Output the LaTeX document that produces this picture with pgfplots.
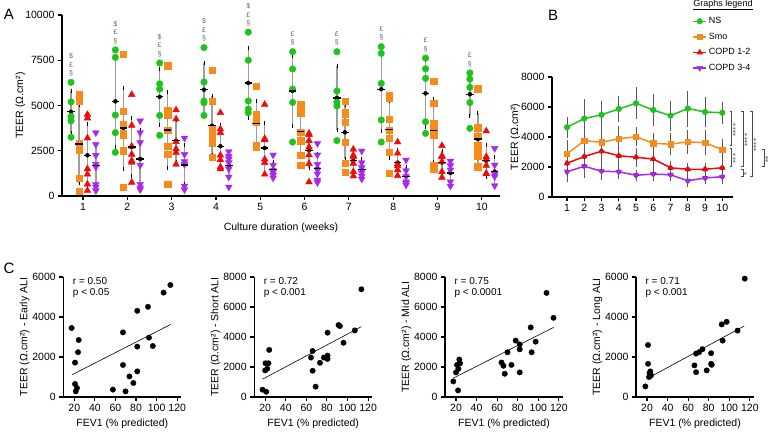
\documentclass[border=0pt]{standalone}
\usepackage{fontspec}
\setmainfont{Liberation Sans}
\usepackage{pgfplots}
\pgfplotsset{compat=1.18}
\usepackage{pgfplotstable}

\definecolor{cNS}{RGB}{30,195,30}
\definecolor{cSmo}{RGB}{247,140,30}
\definecolor{cCa}{RGB}{240,10,10}
\definecolor{cCb}{RGB}{170,40,235}

\tikzset{sig/.style={font=\fontsize{7}{7}\selectfont, text=black!60, inner sep=0pt}}
\pgfplotsset{
  gp/.style={
    scale only axis, clip=false, enlargelimits=false,
    axis x line*=bottom, axis y line*=left,
    axis line style={line width=1.1pt},
    tick align=outside, major tick length=4pt,
    tick style={black, line width=1.1pt},
    tick label style={font=\fontsize{10.5}{12}\selectfont},
    label style={font=\fontsize{10.5}{12}\selectfont},
    /pgf/number format/assume math mode=true,
    /pgf/number format/1000 sep={},
    scaled ticks=false,
  },
  cax/.style={gp, width=118pt, height=120pt, xmin=9.3, xmax=124, ymin=0,
    xtick={20,40,...,120}, xlabel={FEV1 (\% predicted)}, ylabel style={yshift=-4pt}},
  ptsty/.style={only marks, mark size=2.7pt, mark=*, mark options={fill=black, draw=black}},
}

% ---------- Panel A individual values ----------
\pgfplotstableread{
w v
1 6280
1 5200
1 4400
1 4150
1 3250
2 8070
2 7660
2 4470
2 3500
2 2410
3 7350
3 6200
3 5900
3 4450
3 3350
4 8200
4 6300
4 5250
4 5150
4 4450
5 9050
5 7500
5 5250
5 4800
5 4600
6 7970
6 7020
6 5910
6 5170
6 2980
7 7970
7 5800
7 5190
7 4970
7 3060
8 8250
8 7880
8 6220
8 4200
8 2980
9 7620
9 7030
9 6500
9 4100
9 3460
10 6800
10 6460
10 6000
10 5160
10 3740
}\NSpts

\pgfplotstableread{
w v
1 5620
1 5230
1 2900
1 2540
1 1000
1 270
2 7850
2 4700
2 3950
2 3450
2 3350
2 2500
2 500
3 7200
3 4750
3 4450
3 3650
3 2750
3 2300
3 650
4 6950
4 5250
4 3700
4 3300
4 3100
4 2950
4 2150
5 6080
5 4510
5 4240
5 4090
5 2780
5 2730
6 5060
6 4900
6 4600
6 3540
6 3060
6 2250
6 1710
7 5250
7 4600
7 4530
7 4090
7 2970
7 1800
7 1330
8 5580
8 5430
8 4250
8 3650
8 3190
8 2410
8 1250
9 6350
9 5120
9 4010
9 3650
9 3370
9 1680
9 1470
10 5930
10 3780
10 3310
10 2820
10 2390
10 2230
10 1620
}\Smopts

\pgfplotstableread{
w v
1 4500
1 4300
1 3200
1 1500
1 1200
1 650
1 300
2 5600
2 3900
2 2750
2 2300
2 1950
2 1850
2 750
3 4750
3 4250
3 3000
3 2600
3 2400
3 1750
4 4600
4 3700
4 3500
4 2250
4 2000
4 1600
4 1500
5 5060
5 3170
5 3100
5 2030
5 1840
5 1200
6 3460
6 3390
6 3060
6 2700
6 2270
6 1790
6 770
7 2580
7 2250
7 2170
7 1800
7 1340
7 1100
8 2980
8 2360
8 1770
8 1660
8 1440
8 1120
9 2780
9 2230
9 2170
9 1900
9 1340
9 1030
10 3590
10 2170
10 2030
10 1680
10 1250
10 1220
}\Capts

\pgfplotstableread{
w v
1 3500
1 2850
1 2250
1 1750
1 1600
1 650
1 500
1 300
2 4150
2 3500
2 2950
2 1700
2 650
2 450
2 350
3 3200
3 2300
3 1900
3 1750
3 550
3 350
4 2450
4 2200
4 2050
4 1850
4 1500
4 1050
4 500
5 2270
5 1700
5 1400
5 1300
5 1150
5 1000
6 2900
6 2270
6 1750
6 1440
6 1220
6 880
6 740
7 2490
7 1840
7 1570
7 1290
7 1100
7 940
8 1990
8 1400
8 1070
8 790
8 700
8 610
9 1930
9 1680
9 1440
9 790
9 550
10 2630
10 1710
10 1220
10 1070
10 570
}\Cbpts

% ---------- means, SD (panel A) and SEM (panel B) ----------
\pgfplotstableread{
w m sd se
1 4650 1145 500
2 5230 2520 1100
3 5480 1564 700
4 5870 1460 650
5 6250 1951 870
6 5800 1908 850
7 5420 1766 800
8 5900 2289 1000
9 5670 1849 800
10 5620 1224 530
}\NSms
\pgfplotstableread{
w m sd se
1 2880 2166 740
2 3750 2241 850
3 3650 2085 820
4 3880 1640 640
5 4020 1243 430
6 3580 1323 490
7 3520 1503 550
8 3680 1567 590
9 3620 1746 650
10 3150 1415 530
}\Smoms
\pgfplotstableread{
w m sd se
1 2250 1741 600
2 2700 1586 700
3 3050 1152 550
4 2750 1196 500
5 2650 1369 450
6 2530 967 450
7 1950 569 250
8 1850 672 250
9 1850 636 250
10 1950 875 320
}\Cams
\pgfplotstableread{
w m sd se
1 1680 1158 500
2 2050 1571 550
3 1720 1078 380
4 1680 688 250
5 1450 456 180
6 1530 774 280
7 1480 567 200
8 1080 522 230
9 1270 589 200
10 1350 780 280
}\Cbms

% ---------- Panel C ----------
\pgfplotstableread{
x y
17.4 3450
20.7 1720
23.6 2240
24.3 2850
20.7 650
22.6 450
21.4 280
57.5 370
67.3 3230
67.3 1600
69.8 280
73.6 1030
77.4 700
81.2 4310
81.2 2520
81.2 1280
91.6 4510
92.6 2970
96.3 2550
106.8 5220
113.4 5600
}\Cone
\pgfplotstableread{
x y
17.4 490
21 350
20 1770
22 1880
20.3 2250
23.2 2250
23.9 3140
64.5 2630
66.1 3070
66.1 1750
69 690
73.2 2280
77.1 2630
79 2630
80.6 2760
80.6 2540
80.6 4290
91.3 4800
92.6 4730
96.1 3620
107.1 4440
113.5 7180
}\Ctwo
\pgfplotstableread{
x y
17.4 1040
22 440
20 1640
21 2140
22.3 1880
23.2 2500
23.9 2250
64.2 2300
66.1 2080
67.4 1550
70 2980
73.9 2140
78 3760
81.9 3510
81.9 3180
81.9 1640
92.6 4640
93.5 2980
97.4 3690
108 6940
114.8 5280
}\Cthree
\pgfplotstableread{
x y
18.4 530
21 2600
21 1660
22.5 1200
23.2 1280
23.9 1080
22 1000
66.1 1580
67.7 1240
67.7 2170
70.6 2240
73.9 2390
78 1330
82.3 2190
82.3 1660
82.9 1610
92.6 3630
93.5 2820
97.4 3760
108 3320
115 5920
}\Cfour

\begin{document}
\begin{tikzpicture}[x=1pt,y=1pt]
\useasboundingbox (0,0) rectangle (771,432);

% ================= Panel A =================
\begin{axis}[gp, at={(62pt,236pt)}, anchor=south west, width=438pt, height=181pt,
  xmin=0.526, xmax=10.41, ymin=0, ymax=10000,
  xtick={1,...,10}, ytick={0,2500,5000,7500,10000},
  xlabel={Culture duration (weeks)}, ylabel={TEER (Ω.cm²)},
  xlabel style={yshift=-5pt}, ylabel style={yshift=-7pt}]
% SD bars
\addplot[only marks, mark=none, forget plot, error bars/.cd, y dir=both, y explicit,
  error bar style={black!38, line width=1.4pt}, error mark options={black, line width=0.8pt, mark size=2pt}]
  table[x expr=\thisrow{w}-0.27, y=m, y error=sd]{\NSms};
\addplot[only marks, mark=none, forget plot, error bars/.cd, y dir=both, y explicit,
  error bar style={black!38, line width=1.4pt}, error mark options={black, line width=0.8pt, mark size=2pt}]
  table[x expr=\thisrow{w}-0.09, y=m, y error=sd]{\Smoms};
\addplot[only marks, mark=none, forget plot, error bars/.cd, y dir=both, y explicit,
  error bar style={black!38, line width=1.4pt}, error mark options={black, line width=0.8pt, mark size=2pt}]
  table[x expr=\thisrow{w}+0.10, y=m, y error=sd]{\Cams};
\addplot[only marks, mark=none, forget plot, error bars/.cd, y dir=both, y explicit,
  error bar style={black!38, line width=1.4pt}, error mark options={black, line width=0.8pt, mark size=2pt}]
  table[x expr=\thisrow{w}+0.29, y=m, y error=sd]{\Cbms};
% points
\addplot[only marks, mark=*, mark size=3.3pt, mark options={draw=cNS, fill=cNS}]
  table[x expr=\thisrow{w}-0.27, y=v]{\NSpts};
\addplot[only marks, mark=square*, mark size=3.2pt, mark options={draw=cSmo, fill=cSmo}]
  table[x expr=\thisrow{w}-0.09, y=v]{\Smopts};
\addplot[only marks, mark=triangle*, mark size=3.9pt, mark options={draw=cCa, fill=cCa}]
  table[x expr=\thisrow{w}+0.10, y=v]{\Capts};
\addplot[only marks, mark=triangle*, mark size=3.9pt, mark options={draw=cCb, fill=cCb, rotate=180}]
  table[x expr=\thisrow{w}+0.29, y=v]{\Cbpts};
% means
\addplot[only marks, mark=-, mark size=3.8pt, mark options={black, line width=1.3pt}]
  table[x expr=\thisrow{w}-0.27, y=m]{\NSms};
\addplot[only marks, mark=-, mark size=3.8pt, mark options={black, line width=1.3pt}]
  table[x expr=\thisrow{w}-0.09, y=m]{\Smoms};
\addplot[only marks, mark=-, mark size=3.8pt, mark options={black, line width=1.3pt}]
  table[x expr=\thisrow{w}+0.10, y=m]{\Cams};
\addplot[only marks, mark=-, mark size=3.8pt, mark options={black, line width=1.3pt}]
  table[x expr=\thisrow{w}+0.29, y=m]{\Cbms};
% significance symbols
\node[sig] at (axis cs:0.73,6780) {§};
\node[sig] at (axis cs:0.73,7250) {£};
\node[sig] at (axis cs:0.73,7720) {\$};
\node[sig] at (axis cs:1.73,8570) {§};
\node[sig] at (axis cs:1.73,9040) {£};
\node[sig] at (axis cs:1.73,9510) {\$};
\node[sig] at (axis cs:2.73,7850) {§};
\node[sig] at (axis cs:2.73,8320) {£};
\node[sig] at (axis cs:2.73,8790) {\$};
\node[sig] at (axis cs:3.73,8700) {§};
\node[sig] at (axis cs:3.73,9170) {£};
\node[sig] at (axis cs:3.73,9640) {\$};
\node[sig] at (axis cs:4.73,9550) {§};
\node[sig] at (axis cs:4.73,10020) {£};
\node[sig] at (axis cs:4.73,10490) {\$};
\node[sig] at (axis cs:5.73,8470) {§};
\node[sig] at (axis cs:5.73,8940) {£};
\node[sig] at (axis cs:6.73,8470) {§};
\node[sig] at (axis cs:6.73,8940) {£};
\node[sig] at (axis cs:7.73,8750) {§};
\node[sig] at (axis cs:7.73,9220) {£};
\node[sig] at (axis cs:8.73,8120) {§};
\node[sig] at (axis cs:8.73,8590) {£};
\node[sig] at (axis cs:9.73,7300) {§};
\node[sig] at (axis cs:9.73,7770) {£};
\end{axis}

% ================= Panel B =================
\begin{axis}[gp, at={(552pt,235pt)}, anchor=south west, width=181pt, height=120pt,
  xmin=0.13, xmax=10.62, ymin=0, ymax=8000,
  xtick={1,...,10}, ytick={0,2000,4000,6000,8000},
  ylabel={TEER (Ω.cm²)}, ylabel style={yshift=-6pt},
  legend style={at={(0.775,1.515)}, anchor=north west, draw=none, fill=none,
    font=\fontsize{9}{11}\selectfont, row sep=3.8pt, inner sep=0pt},
  legend cell align=left,
  legend image code/.code={\draw[mark repeat=2, mark phase=2, #1] plot coordinates {(0pt,0pt) (6.5pt,0pt) (13pt,0pt)};}]
\addplot[only marks, mark=none, forget plot, error bars/.cd, y dir=both, y explicit,
  error bar style={black!65, line width=0.9pt}, error mark options={black!65, line width=0.9pt, mark size=3pt}]
  table[x=w, y=m, y error=se]{\NSms};
\addplot[only marks, mark=none, forget plot, error bars/.cd, y dir=both, y explicit,
  error bar style={black!65, line width=0.9pt}, error mark options={black!65, line width=0.9pt, mark size=3pt}]
  table[x=w, y=m, y error=se]{\Smoms};
\addplot[only marks, mark=none, forget plot, error bars/.cd, y dir=both, y explicit,
  error bar style={black!65, line width=0.9pt}, error mark options={black!65, line width=0.9pt, mark size=3pt}]
  table[x=w, y=m, y error=se]{\Cams};
\addplot[only marks, mark=none, forget plot, error bars/.cd, y dir=both, y explicit,
  error bar style={black!65, line width=0.9pt}, error mark options={black!65, line width=0.9pt, mark size=3pt}]
  table[x=w, y=m, y error=se]{\Cbms};
\addplot[cNS, line width=1.5pt, mark=*, mark size=2.8pt, mark options={fill=cNS, draw=cNS, line width=0.5pt}]
  table[x=w, y=m]{\NSms};
\addlegendentry{NS}
\addplot[cSmo, line width=1.5pt, mark=square*, mark size=2.7pt, mark options={fill=cSmo, draw=cSmo, line width=0.5pt}]
  table[x=w, y=m]{\Smoms};
\addlegendentry{Smo}
\addplot[cCa, line width=1.5pt, mark=triangle*, mark size=3.2pt, mark options={fill=cCa, draw=cCa, line width=0.5pt}]
  table[x=w, y=m]{\Cams};
\addlegendentry{COPD 1-2}
\addplot[cCb, line width=1.5pt, mark=triangle*, mark size=3.2pt, mark options={fill=cCb, draw=cCb, rotate=180, line width=0.5pt}]
  table[x=w, y=m]{\Cbms};
\addlegendentry{COPD 3-4}
\end{axis}

% ================= Panel C =================
\begin{axis}[cax, at={(63.3pt,35pt)}, anchor=south west, ymax=6000, ytick={0,2000,4000,6000},
  ylabel={TEER (Ω.cm²) - Early ALI}]
\addplot[ptsty] table[x=x,y=y]{\Cone};
\addplot[black, line width=0.6pt, mark=none] coordinates {(17.7,1110) (113.7,3630)};
\node[anchor=north west, align=left, font=\fontsize{10}{11.5}\selectfont, inner sep=0pt] at (rel axis cs:0.08,1.0) {r = 0.50\\p < 0.05};
\end{axis}

\begin{axis}[cax, at={(254.2pt,35pt)}, anchor=south west, ymax=8000, ytick={0,2000,4000,6000,8000},
  ylabel={TEER (Ω.cm²) - Short ALI}]
\addplot[ptsty] table[x=x,y=y]{\Ctwo};
\addplot[black, line width=0.6pt, mark=none] coordinates {(17.4,1190) (113.5,4690)};
\node[anchor=north west, align=left, font=\fontsize{10}{11.5}\selectfont, inner sep=0pt] at (rel axis cs:0.08,1.0) {r = 0.72\\p < 0.001};
\end{axis}

\begin{axis}[cax, at={(445pt,35pt)}, anchor=south west, ymax=8000, ytick={0,2000,4000,6000,8000},
  ylabel={TEER (Ω.cm²) - Mid ALI}]
\addplot[ptsty] table[x=x,y=y]{\Cthree};
\addplot[black, line width=0.6pt, mark=none] coordinates {(17.4,1260) (114.8,4640)};
\node[anchor=north west, align=left, font=\fontsize{10}{11.5}\selectfont, inner sep=0pt] at (rel axis cs:0.08,1.0) {r = 0.75\\p < 0.0001};
\end{axis}

\begin{axis}[cax, at={(636pt,35pt)}, anchor=south west, ymax=6000, ytick={0,2000,4000,6000},
  ylabel={TEER (Ω.cm²) - Long ALI}]
\addplot[ptsty] table[x=x,y=y]{\Cfour};
\addplot[black, line width=0.6pt, mark=none] coordinates {(19.4,900) (114.5,3550)};
\node[anchor=north west, align=left, font=\fontsize{10}{11.5}\selectfont, inner sep=0pt] at (rel axis cs:0.08,1.0) {r = 0.71\\p < 0.001};
\end{axis}

% ================= Annotations =================
\node[font=\fontsize{15}{15}\selectfont] at (9,418) {A};
\node[font=\fontsize{15}{15}\selectfont] at (553,417) {B};
\node[font=\fontsize{15}{15}\selectfont] at (9,164) {C};
\node[font=\fontsize{9}{10}\selectfont, inner sep=0pt] at (723,427) {\underline{Graphs legend}};

\begin{scope}[black!70, line width=0.7pt]
\draw (729.7,320.3) -- (731.7,320.3) -- (731.7,286.3) -- (729.7,286.3);
\draw (729.7,284) -- (731.7,284) -- (731.7,265.3) -- (729.7,265.3);
\draw (741,263) -- (743,263) -- (743,256) -- (741,256);
\draw (741.3,320.3) -- (743.3,320.3) -- (743.3,265.3) -- (741.3,265.3);
\draw (750.3,320.3) -- (752.3,320.3) -- (752.3,256) -- (750.3,256);
\draw (762.3,283) -- (764.3,283) -- (764.3,265.3) -- (762.3,265.3);
\end{scope}
\begin{scope}[every node/.style={font=\fontsize{8}{8}\selectfont, text=black!70, inner sep=0pt, rotate=90}]
\node at (735.5,302) {****};
\node at (735.5,273.5) {***};
\node at (746.5,258.5) {*};
\node at (747.3,292) {****};
\node at (756.3,287) {****};
\node at (768,273) {**};
\end{scope}
\end{tikzpicture}
\end{document}
